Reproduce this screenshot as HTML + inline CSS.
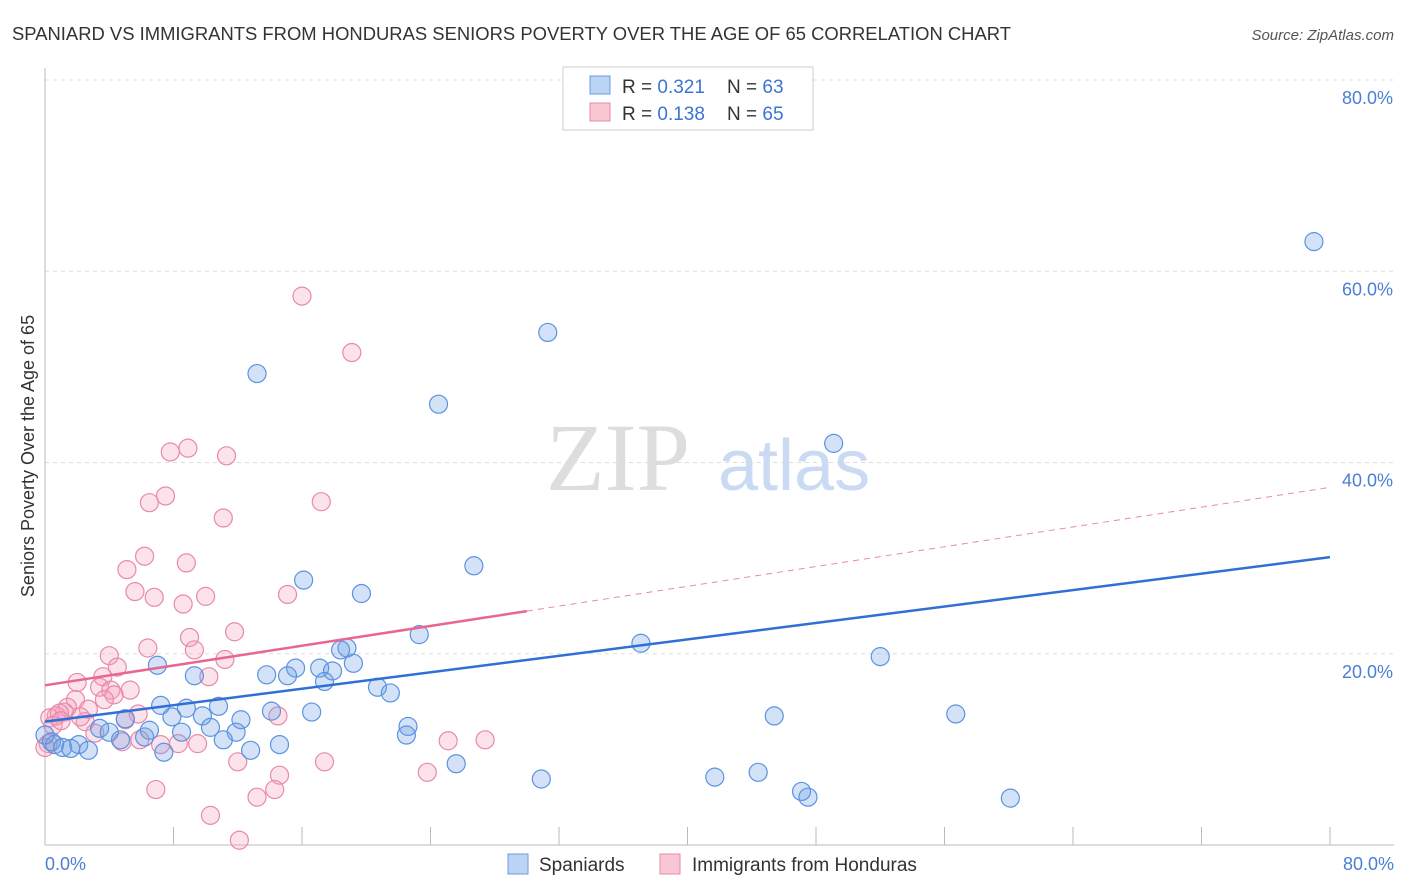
<!DOCTYPE html>
<html><head><meta charset="utf-8"><style>
body{margin:0;background:#fff;font-family:"Liberation Sans",sans-serif}
svg{display:block}
</style></head><body>
<svg width="1406" height="892" xmlns="http://www.w3.org/2000/svg">
<text x="12" y="40" font-size="18" fill="#333" textLength="999" lengthAdjust="spacingAndGlyphs">SPANIARD VS IMMIGRANTS FROM HONDURAS SENIORS POVERTY OVER THE AGE OF 65 CORRELATION CHART</text>
<text x="1394" y="40" font-size="15" fill="#555" font-style="italic" text-anchor="end">Source: ZipAtlas.com</text>
<g id="grid"></g>
<text x="690" y="490" font-size="96" font-family="Liberation Serif" fill="#ddd" text-anchor="end">ZIP</text>
<text x="718" y="490" font-size="72" fill="#c9daf2">atlas</text>
<g id="marks"></g>
<text transform="translate(34,456) rotate(-90)" font-size="18" fill="#333" text-anchor="middle">Seniors Poverty Over the Age of 65</text>
<text x="45" y="870" font-size="18" fill="#4a7fd4">0.0%</text>
<text x="1394" y="870" font-size="18" fill="#4a7fd4" text-anchor="end">80.0%</text>
<g>
<rect x="563" y="67" width="250" height="63" fill="#fff" stroke="#ccc"/>
<rect x="590" y="76" width="20" height="18" fill="#bcd4f4" stroke="#6b9be0"/>
<rect x="590" y="103" width="20" height="18" fill="#f9c6d4" stroke="#e88aa8"/>
<text x="622" y="93" font-size="19" fill="#333">R = <tspan fill="#3b74d4">0.321</tspan></text>
<text x="727" y="93" font-size="19" fill="#333">N = <tspan fill="#3b74d4">63</tspan></text>
<text x="622" y="120" font-size="19" fill="#333">R = <tspan fill="#3b74d4">0.138</tspan></text>
<text x="727" y="120" font-size="19" fill="#333">N = <tspan fill="#3b74d4">65</tspan></text>
</g>
<g>
<rect x="508" y="854" width="20" height="20" fill="#bcd4f4" stroke="#6b9be0"/>
<text x="539" y="871" font-size="19" fill="#333">Spaniards</text>
<rect x="660" y="854" width="20" height="20" fill="#f9c6d4" stroke="#e88aa8"/>
<text x="692" y="871" font-size="19" fill="#333">Immigrants from Honduras</text>
</g>
</svg>
<script>
const yTicks=[20,40,60,80];
const xTicks=[0,8,16,24,32,40,48,56,64,72,80];
const blueX=[79.0,31.3,13.2,24.5,49.1,26.7,16.1,19.7,23.3,37.1,18.8,18.4,52.0,7.0,19.2,15.6,17.1,17.9,13.8,15.1,9.3,17.4,20.7,21.5,7.2,8.8,10.8,14.1,16.6,7.9,9.8,45.4,56.7,5.0,12.2,3.4,6.5,22.6,8.5,11.9,22.5,10.3,4.7,6.2,11.1,14.6,0.4,0.6,2.1,1.1,1.6,2.7,12.8,7.4,25.6,30.9,41.7,44.4,47.1,47.5,60.1,0.0,4.0];
const blueY=[63.1,53.6,49.3,46.1,42.0,29.2,27.7,26.3,22.0,21.1,20.6,20.4,19.7,18.8,19.0,18.5,18.5,18.2,17.8,17.7,17.7,17.1,16.5,15.9,14.6,14.3,14.5,14.0,13.9,13.4,13.5,13.5,13.7,13.2,13.1,12.2,12.0,12.4,11.8,11.8,11.5,12.3,11.0,11.3,11.0,10.5,10.8,10.5,10.5,10.2,10.1,9.9,9.9,9.7,8.5,6.9,7.1,7.6,5.6,5.0,4.9,11.5,11.8];
const pinkX=[16.0,19.1,8.9,7.8,11.3,7.5,6.5,17.2,11.1,6.2,8.8,5.1,5.6,10.0,6.8,8.6,15.1,11.8,9.0,6.4,9.3,4.0,11.2,4.5,3.6,10.2,2.0,5.3,3.4,4.1,4.3,1.9,1.4,1.2,2.7,0.7,0.3,2.5,5.8,14.5,5.0,2.2,3.1,4.8,7.2,8.3,9.5,0.2,5.9,25.1,27.4,12.0,17.4,23.8,14.6,6.9,14.3,13.2,10.3,12.1,3.7,0.9,0.5,1.0,0.0];
const pinkY=[57.4,51.5,41.5,41.1,40.7,36.5,35.8,35.9,34.2,30.2,29.5,28.8,26.5,26.0,25.9,25.2,26.2,22.3,21.7,20.6,20.4,19.8,19.4,18.6,17.6,17.6,17.0,16.2,16.5,16.2,15.7,15.2,14.4,13.9,14.2,13.5,13.3,12.9,13.7,13.5,13.1,13.4,11.7,10.8,10.5,10.6,10.6,10.6,11.0,10.9,11.0,8.7,8.7,7.6,7.3,5.8,5.8,5.0,3.1,0.5,15.2,13.8,12.5,13.0,10.2];
const blueTrend=[12.9,30.1];   // value at x=0, x=80
const pinkTrend=[16.7,37.4];   // value at x=0, x=80
const pinkSolidEnd=30;
const X0=45,X1=1330,Y0=845,Y1=80;
const sx=v=>X0+(v/80)*(X1-X0);
const sy=v=>Y0-(v/80)*(Y0-Y1);
const NS="http://www.w3.org/2000/svg";
const grid=document.getElementById('grid'),marks=document.getElementById('marks');
function mk(tag,attrs,parent){const e=document.createElementNS(NS,tag);for(const k in attrs)e.setAttribute(k,attrs[k]);parent.appendChild(e);return e;}
yTicks.forEach(t=>{
 const l=mk('line',{x1:X0,x2:1394,y1:sy(t),y2:sy(t),stroke:'#ddd','stroke-dasharray':'4,4'},grid);
 
 
 const tx=mk('text',{x:1393,y:sy(t)+24,'font-size':18,fill:'#4a7fd4','text-anchor':'end'},grid);
 tx.textContent=t.toFixed(1)+'%';
 
 
});
const ax=mk('path',{d:`M${X0},68 V${Y0} H1394`,stroke:'#bbb',fill:'none'},grid);


xTicks.forEach(t=>{
 const l=mk('line',{x1:sx(t),x2:sx(t),y1:Y0-18,y2:Y0,stroke:'#bbb'},grid);
 
 
});
function dots(xs,ys,fill,stroke,name){
 xs.forEach((x,i)=>{
  const c=mk('circle',{cx:sx(x),cy:sy(ys[i]),r:9,fill:fill,stroke:stroke,'stroke-width':1.2},marks);
  
  
 });
}
dots(pinkX,pinkY,'rgba(244,160,188,0.3)','#e88aa8','honduras-point');
dots(blueX,blueY,'rgba(110,160,230,0.3)','#5b93e0','spaniard-point');
const pt=v=>pinkTrend[0]+(pinkTrend[1]-pinkTrend[0])*v/80;
let l=mk('line',{x1:sx(0),y1:sy(blueTrend[0]),x2:sx(80),y2:sy(blueTrend[1]),stroke:'#2f6fd6','stroke-width':2.5},marks);


l=mk('line',{x1:sx(0),y1:sy(pt(0)),x2:sx(pinkSolidEnd),y2:sy(pt(pinkSolidEnd)),stroke:'#e8668f','stroke-width':2.5},marks);


l=mk('line',{x1:sx(pinkSolidEnd),y1:sy(pt(pinkSolidEnd)),x2:sx(80),y2:sy(pt(80)),stroke:'#e88aa8','stroke-width':1,'stroke-dasharray':'6,5'},marks);


</script>
</body></html>
